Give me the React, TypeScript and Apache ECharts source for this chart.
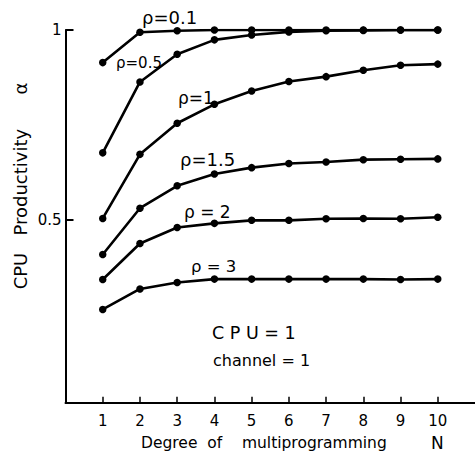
import React, { useEffect, useRef } from "react";
import * as echarts from "echarts";

const N = [1, 2, 3, 4, 5, 6, 7, 8, 9, 10];
const rho01 = [0.914, 0.994, 0.998, 1.0, 1.0, 1.0, 1.0, 1.0, 1.0, 1.0];
const rho05 = [0.676, 0.863, 0.936, 0.974, 0.987, 0.995, 0.998, 0.999, 1.0, 1.0];
const rho1 = [0.503, 0.672, 0.754, 0.804, 0.839, 0.864, 0.877, 0.894, 0.907, 0.91];
const rho15 = [0.408, 0.53, 0.589, 0.62, 0.637, 0.648, 0.652, 0.658, 0.659, 0.66];
const rho2 = [0.342, 0.437, 0.479, 0.49, 0.498, 0.498, 0.502, 0.503, 0.502, 0.506];
const rho3 = [0.263, 0.317, 0.334, 0.343, 0.343, 0.343, 0.343, 0.343, 0.342, 0.343];
const seriesNames = ["ρ=0.1", "ρ=0.5", "ρ=1", "ρ=1.5", "ρ = 2", "ρ = 3"];
const seriesValues = [rho01, rho05, rho1, rho15, rho2, rho3];
const yTicks = [0.5, 1];
const xTicks = [1, 2, 3, 4, 5, 6, 7, 8, 9, 10];

const FONT = "'DejaVu Sans', sans-serif";

export default function App() {
  const ref = useRef<HTMLDivElement>(null);
  useEffect(() => {
    if (!ref.current) return;
    const chart = echarts.init(ref.current, undefined, { renderer: "svg" });
    const txt = (text: string, x: number, y: number, size: number) => ({
      type: "text",
      x,
      y,
      style: {
        text,
        fontSize: size,
        fontFamily: FONT,
        fill: "#000",
        align: "left",
        verticalAlign: "middle",
      },
    });
    chart.setOption({
      animation: false,
      backgroundColor: "#fff",
      grid: { left: 65.5, right: 0, top: 30, bottom: 55.3 },
      xAxis: {
        type: "value",
        min: 0,
        max: 11,
        axisLine: { show: true, onZero: false, lineStyle: { color: "#000", width: 2 } },
        axisTick: { show: true, inside: true, length: 6, customValues: xTicks, lineStyle: { color: "#000", width: 1.5 } },
        axisLabel: { customValues: xTicks, color: "#000", fontSize: 15, fontFamily: FONT, margin: 11 },
        splitLine: { show: false },
      },
      yAxis: {
        type: "value",
        min: 0.017,
        max: 1,
        axisLine: { show: true, onZero: false, lineStyle: { color: "#000", width: 2 } },
        axisTick: { show: true, inside: true, length: 8, customValues: yTicks, lineStyle: { color: "#000", width: 2 } },
        axisLabel: { customValues: yTicks, color: "#000", fontSize: 15, fontFamily: FONT, margin: 4 },
        splitLine: { show: false },
      },
      series: seriesValues.map((vals, i) => ({
        type: "line",
        name: seriesNames[i],
        data: vals.map((v, j) => [N[j], v]),
        symbol: "circle",
        symbolSize: 7.5,
        lineStyle: { color: "#000", width: 2.6 },
        itemStyle: { color: "#000" },
        z: 3,
      })),
      graphic: [
        txt(seriesNames[0], 142, 17, 18),
        txt(seriesNames[1], 116, 63, 15),
        txt(seriesNames[2], 178, 98, 17),
        txt(seriesNames[3], 180, 159, 18),
        txt(seriesNames[4], 184, 212, 17),
        txt(seriesNames[5], 191, 266, 16.5),
        txt("C P U = 1", 212, 333, 17.5),
        txt("channel = 1", 213, 360, 16),
        txt("Degree  of    multiprogramming", 141, 443, 15.5),
        txt("N", 431, 443, 17),
        {
          type: "text",
          x: 20,
          y: 186,
          rotation: Math.PI / 2,
          style: {
            text: "CPU   Productivity      α",
            fontSize: 18,
            fontFamily: FONT,
            fill: "#000",
            align: "center",
            verticalAlign: "middle",
          },
        },
      ],
    });
    return () => chart.dispose();
  }, []);
  return <div ref={ref} style={{ width: 475, height: 458, position: "absolute", left: 0, top: 0 }} />;
}
